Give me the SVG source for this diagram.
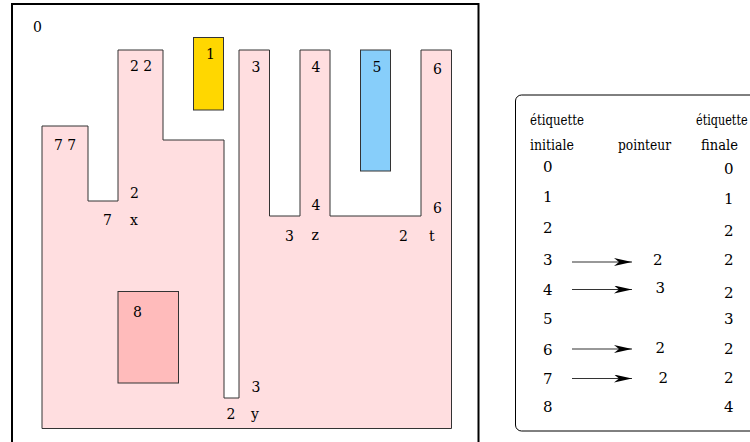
<svg xmlns="http://www.w3.org/2000/svg" width="750" height="442" viewBox="0 0 750 442">
<style>
text{font-family:'DejaVu Serif','Liberation Serif',serif;font-size:14px;fill:#000}
.t{font-size:15px}
.sh{stroke:#333;stroke-width:1}
.ar{stroke:#333;stroke-width:1.2;fill:none}
</style>
<defs>
<marker id="ah" viewBox="0 0 18 8" refX="18" refY="4" markerWidth="18" markerHeight="8" markerUnits="userSpaceOnUse" orient="auto">
<path d="M0,0 L18,4 L0,8 L5,4 Z" fill="#000"/>
</marker>
</defs>
<rect width="750" height="442" fill="#fff"/>
<g id="frame">
<rect x="12" y="4" width="466.5" height="450" fill="none" stroke="#000" stroke-width="2"/>
<text x="33" y="32">0</text>
</g>
<g id="region2">
<path class="sh" fill="#FFDEE0" d="M42,126 H88 V201 H118 V50 H163 V140 H224 V398 H239 V50 H269.5 V216 H300 V50 H330 V216 H421 V50 H451.5 V428.5 H42 Z"/>
<text x="130" y="71">2 2</text>
<text x="54" y="150">7 7</text>
<text x="130" y="198">2</text>
<text x="103" y="225">7</text>
<text x="130" y="225">x</text>
<text x="251.5" y="71.5">3</text>
<text x="311.5" y="71.5">4</text>
<text x="433" y="74">6</text>
<text x="311.5" y="210">4</text>
<text x="433" y="213">6</text>
<text x="285" y="241">3</text>
<text x="311.5" y="240">z</text>
<text x="399" y="241">2</text>
<text x="429" y="241">t</text>
<text x="251.5" y="391.5">3</text>
<text x="226.5" y="419">2</text>
<text x="251" y="419">y</text>
</g>
<g id="region1">
<rect class="sh" x="193.5" y="37.5" width="30" height="72.5" fill="#FFD700"/>
<text x="206" y="59">1</text>
</g>
<g id="region5">
<rect class="sh" x="360.5" y="50" width="30" height="121" fill="#87CEFA"/>
<text x="372.5" y="71.5">5</text>
</g>
<g id="region8">
<rect class="sh" x="118" y="291.5" width="60.5" height="91.5" fill="#FFBBBB"/>
<text x="133" y="316.5">8</text>
</g>
<g id="table">
<rect x="515.5" y="95" width="260" height="336" rx="6" fill="none" stroke="#000" stroke-width="1"/>
<text class="t" x="530" y="125" textLength="54" lengthAdjust="spacingAndGlyphs">étiquette</text>
<text class="t" transform="translate(696,125) scale(0.75,1)">étiquette</text>
<text class="t" x="530" y="150" textLength="44" lengthAdjust="spacingAndGlyphs">initiale</text>
<text class="t" x="618" y="150" textLength="53" lengthAdjust="spacingAndGlyphs">pointeur</text>
<text class="t" x="701" y="150" textLength="37" lengthAdjust="spacingAndGlyphs">finale</text>
<text class="t" x="543" y="172">0</text><text class="t" x="724" y="173.5">0</text>
<text class="t" x="543" y="202">1</text><text class="t" x="724" y="204">1</text>
<text class="t" x="543" y="233">2</text><text class="t" x="724" y="236">2</text>
<text class="t" x="543" y="265">3</text><text class="t" x="653" y="265">2</text><text class="t" x="724" y="265">2</text>
<text class="t" x="543" y="295">4</text><text class="t" x="655.5" y="293">3</text><text class="t" x="724" y="298">2</text>
<text class="t" x="543" y="324">5</text><text class="t" x="724" y="324">3</text>
<text class="t" x="543" y="354.5">6</text><text class="t" x="655.5" y="352.5">2</text><text class="t" x="724" y="354">2</text>
<text class="t" x="543" y="383.5">7</text><text class="t" x="658.5" y="383">2</text><text class="t" x="724" y="383">2</text>
<text class="t" x="543" y="412">8</text><text class="t" x="724" y="412">4</text>
</g>
<g id="connectors">
<line class="ar" x1="572" y1="262" x2="632" y2="262" marker-end="url(#ah)"/>
<line class="ar" x1="572" y1="289.5" x2="632" y2="289.5" marker-end="url(#ah)"/>
<line class="ar" x1="572" y1="349" x2="632" y2="349" marker-end="url(#ah)"/>
<line class="ar" x1="572" y1="378.5" x2="632" y2="378.5" marker-end="url(#ah)"/>
</g>
</svg>
